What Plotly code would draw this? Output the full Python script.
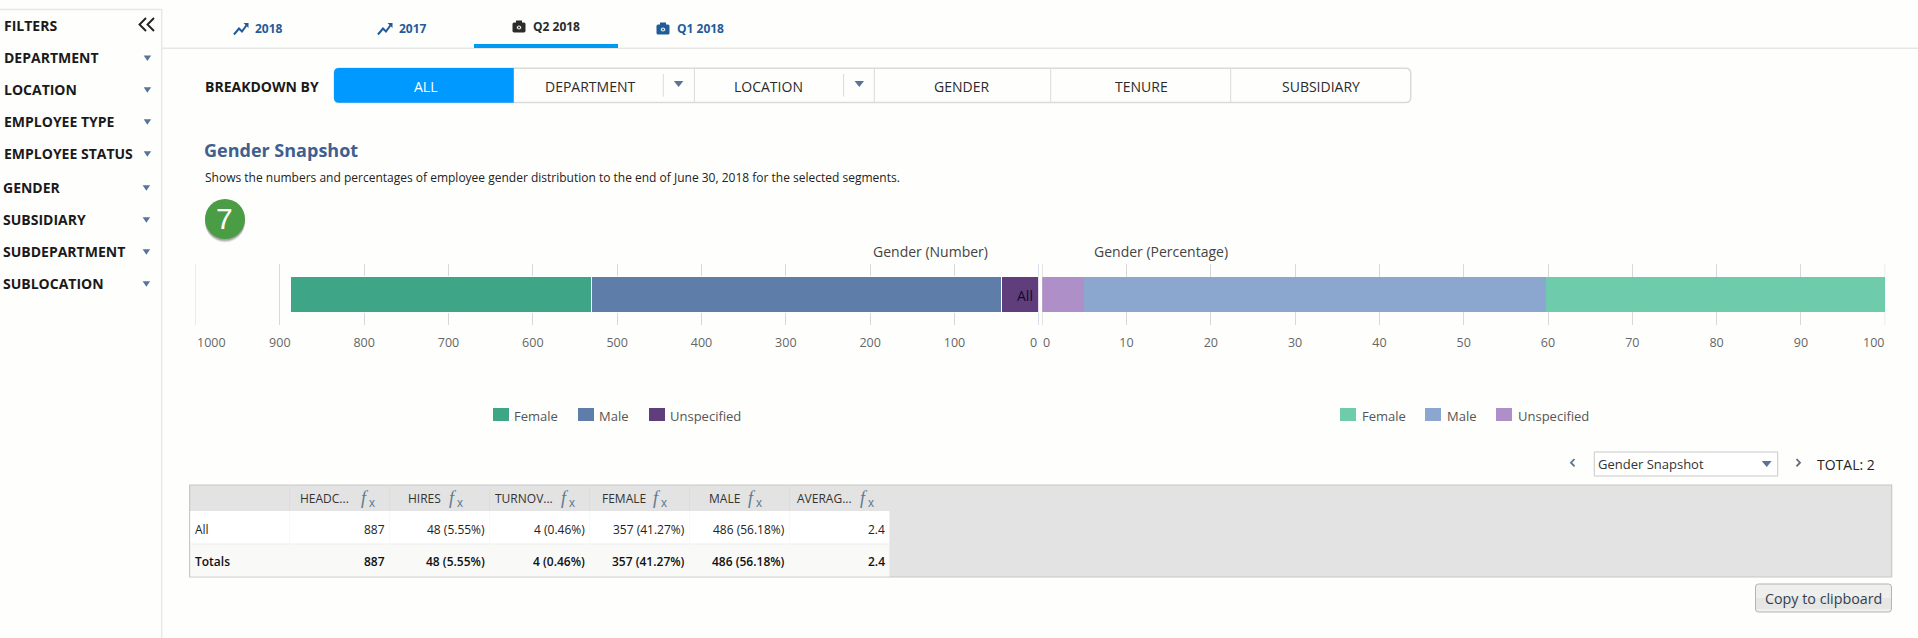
#!/usr/bin/env python3

import plotly.graph_objects as go

W = 1918
H = 638
FONT = 'Open Sans'
BG = '#fefefc'

# Chart data
category = ['All']
gender_names = ['Unspecified', 'Male', 'Female']
gender_number = [44, 486, 357]
gender_percent = [4.96, 54.79, 40.25]
number_ticks = [0, 100, 200, 300, 400, 500, 600, 700, 800, 900, 1000]
percent_ticks = [0, 10, 20, 30, 40, 50, 60, 70, 80, 90, 100]

# Page texts
filter_names = ['DEPARTMENT', 'LOCATION', 'EMPLOYEE TYPE', 'EMPLOYEE STATUS',
                'GENDER', 'SUBSIDIARY', 'SUBDEPARTMENT', 'SUBLOCATION']
tab_names = ['2018', '2017', 'Q2 2018', 'Q1 2018']
breakdown_names = ['ALL', 'DEPARTMENT', 'LOCATION', 'GENDER', 'TENURE', 'SUBSIDIARY']

# Table
table_headers = ['HEADC...', 'HIRES', 'TURNOV...', 'FEMALE', 'MALE', 'AVERAG...']
table_rows = ['All', 'Totals']
headcount = ['887', '887']
hires = ['48 (5.55%)', '48 (5.55%)']
turnover = ['4 (0.46%)', '4 (0.46%)']
female = ['357 (41.27%)', '357 (41.27%)']
male = ['486 (56.18%)', '486 (56.18%)']
average = ['2.4', '2.4']

DARK_COLORS = {'Female': '#3ea586', 'Male': '#5f7da9', 'Unspecified': '#603e7c'}
LIGHT_COLORS = {'Female': '#6ecbac', 'Male': '#8ca7cf', 'Unspecified': '#af8fc7'}

shapes = []
annotations = []


def px(x):
    return x / W


def py(y):
    return 1 - y / H


def label(x, y, text, size=12, color='#222222', anchor='left', weight=400, family=FONT, style='normal'):
    annotations.append(dict(
        x=px(x), y=py(y), xref='paper', yref='paper', text=text, showarrow=False,
        xanchor=anchor, yanchor='middle', borderpad=0, borderwidth=0,
        font=dict(family=family, size=size, color=color, weight=weight, style=style),
    ))


def rect(x0, y0, x1, y1, fill=None, line=None, width=1):
    shapes.append(dict(
        type='rect', xref='paper', yref='paper', layer='below',
        x0=px(x0), x1=px(x1), y0=py(y0), y1=py(y1),
        fillcolor=fill if fill else 'rgba(0,0,0,0)',
        line=dict(color=line if line else 'rgba(0,0,0,0)', width=width if line else 0),
    ))


def path(points, fill=None, line=None, width=1):
    # points is a list of (command, x, y)
    parts = []
    for p in points:
        if p == 'Z':
            parts.append('Z')
        else:
            coords = ' '.join(f'{px(p[i]):.5f},{py(p[i + 1]):.5f}' for i in range(1, len(p), 2))
            parts.append(p[0] + coords)
    shapes.append(dict(
        type='path', xref='paper', yref='paper', layer='below', path=' '.join(parts),
        fillcolor=fill if fill else 'rgba(0,0,0,0)',
        line=dict(color=line if line else 'rgba(0,0,0,0)', width=width if line else 0),
    ))


def hline(x0, x1, y, color, width=1):
    path([('M', x0, y), ('L', x1, y)], line=color, width=width)


def vline(x, y0, y1, color, width=1):
    path([('M', x, y0), ('L', x, y1)], line=color, width=width)


def triangle(x, y, w, h, color='#5a7399'):
    path([('M', x - w / 2, y - h / 2), ('L', x + w / 2, y - h / 2), ('L', x, y + h / 2), 'Z'], fill=color)


def rounded(x0, y0, x1, y1, r, fill=None, line=None, width=1):
    path([('M', x0 + r, y0), ('L', x1 - r, y0), ('Q', x1, y0, x1, y0 + r),
          ('L', x1, y1 - r), ('Q', x1, y1, x1 - r, y1), ('L', x0 + r, y1),
          ('Q', x0, y1, x0, y1 - r), ('L', x0, y0 + r), ('Q', x0, y0, x0 + r, y0), 'Z'],
         fill=fill, line=line, width=width)


def circle(x0, y0, x1, y1, fill, line=None):
    shapes.append(dict(type='circle', xref='paper', yref='paper', layer='below',
                       x0=px(x0), x1=px(x1), y0=py(y1), y1=py(y0), fillcolor=fill,
                       line=dict(color=line, width=1) if line else dict(width=0)))


def trend_icon(x, y, color):
    path([('M', x, y + 6), ('L', x + 5, y), ('L', x + 8, y + 3), ('L', x + 13, y - 4)], line=color, width=2)
    path([('M', x + 9.5, y - 5.5), ('L', x + 14.5, y - 5.5), ('L', x + 14.5, y - 0.5), 'Z'], fill=color)


def camera_icon(x, y, color):
    rounded(x, y - 4, x + 13, y + 6, 1.5, fill=color)
    rect(x + 3.5, y - 6, x + 9.5, y - 3, fill=color)
    circle(x + 4, y - 1.5, x + 9, y + 3.5, BG, color)
    circle(x + 5.5, y, x + 7.5, y + 2, color)


# Sidebar
hline(0, 162, 9.5, '#e8e8e6', 1.5)
vline(161.7, 9, H, '#e8e8e6', 1.5)
label(3.8, 26, 'FILTERS', 14, '#1a1a1a', weight=700)
path([('M', 146, 18), ('L', 139.5, 24.5), ('L', 146, 31)], line='#222222', width=1.9)
path([('M', 154, 18), ('L', 147.5, 24.5), ('L', 154, 31)], line='#222222', width=1.9)
filter_y = [58.3, 90, 122, 154, 188, 220, 252, 284]
for i, name in enumerate(filter_names):
    tx = 3.8 if i < 4 else 2.7
    label(tx, filter_y[i] - 0.6, name, 14, '#1a1a1a', weight=700)
    triangle(147.4 if i < 4 else 146.4, filter_y[i], 7.5, 5.5)

# Tabs
TAB_BLUE = '#1f5c99'
hline(162, W, 48.3, '#e6e6e4', 1.5)
rect(474, 44, 618, 48, fill='#009af2')
tab_x = [254.8, 398.7, 532.9, 676.7]
tab_y = [28.7, 28.7, 26.7, 28.7]
for i, name in enumerate(tab_names):
    color = '#2b2b2b' if i == 2 else TAB_BLUE
    label(tab_x[i], tab_y[i], name, 12, color, weight=700)
trend_icon(234, 28.5, TAB_BLUE)
trend_icon(378, 28.5, TAB_BLUE)
camera_icon(512.5, 26.5, '#2b2b2b')
camera_icon(656.5, 28.5, TAB_BLUE)

# Breakdown buttons
label(205, 86, 'BREAKDOWN BY', 14, '#1a1a1a', weight=700)
rounded(334.2, 68.3, 1410.7, 102.5, 5, fill=BG, line='#dadad8', width=1.5)
path([('M', 339, 68), ('L', 513.8, 68), ('L', 513.8, 102.8), ('L', 339, 102.8),
      ('Q', 334, 102.8, 334, 98), ('L', 334, 73), ('Q', 334, 68, 339, 68), 'Z'], fill='#0099ff')
for x in [694.4, 874.3, 1050.7, 1230.7]:
    vline(x, 68.3, 102.5, '#dadad8', 1)
vline(663.3, 74, 96.7, '#dadad8', 1)
vline(843.6, 74, 96.7, '#dadad8', 1)
triangle(678.6, 84, 9.5, 6)
triangle(859.3, 84, 9.5, 6)
breakdown_x = [425, 589.8, 768.7, 961.4, 1141.4, 1321.4]
for i, name in enumerate(breakdown_names):
    label(breakdown_x[i], 86, name, 14, '#ffffff' if i == 0 else '#2b2b2b', anchor='center')

# Heading
label(204, 150, 'Gender Snapshot', 18, '#3f5f8f', weight=700)
label(205, 177, 'Shows the numbers and percentages of employee gender distribution '
      'to the end of June 30, 2018 for the selected segments.', 12, '#222222')
for off, alpha in [(3.5, 0.10), (2.5, 0.18), (1.5, 0.25)]:
    circle(205, 199 + off, 245, 239 + off, f'rgba(60,60,60,{alpha})')
circle(205, 199, 245, 239, '#4a9c45')
label(224.5, 218, '7', 30, '#ffffff', anchor='center', family='Liberation Sans')

# Chart titles
label(930, 251, 'Gender (Number)', 14, '#444444', anchor='center')
label(1160.5, 251, 'Gender (Percentage)', 14, '#444444', anchor='center')

# Legends
legend_layout = [
    (DARK_COLORS, [493, 578, 649], [514, 599, 670]),
    (LIGHT_COLORS, [1340, 1425, 1496], [1362, 1447, 1517.6]),
]
for colors, swatch_x, text_x in legend_layout:
    for i, name in enumerate(['Female', 'Male', 'Unspecified']):
        rect(swatch_x[i], 408, swatch_x[i] + 16, 421, fill=colors[name])
        label(text_x[i], 416, name, 13, '#555555')

# Table frame
rect(189.6, 485, 1891.7, 577, fill='#e3e3e3', line='#c8c8c8', width=1.2)
rect(190.2, 511, 889.4, 544, fill='#ffffff')
rect(190.2, 544, 889.4, 576.4, fill='#f9f9f7')
hline(190.2, 889.4, 544, '#ececea', 1)
column_edges = [289.6, 389.6, 489.5, 589.5, 689.5, 789.4, 889.4]
for x in column_edges[:-1]:
    vline(x, 485.5, 511, '#dcdcdc', 1)
    vline(x, 511, 576.4, '#f8f8f6', 1)
header_x = [299.6, 408, 495, 602, 708.6, 796.6]
fx_x = [361, 449, 561, 653, 748, 860]
for i, name in enumerate(table_headers):
    label(header_x[i], 498.5, name, 12, '#333333')
    label(fx_x[i], 497.5, 'f', 18, '#5e7a90', family='Liberation Serif', style='italic')
    label(fx_x[i] + 8, 503, 'x', 12, '#5e7a90', family='Liberation Sans')
table_columns = [headcount, hires, turnover, female, male, average]
for r, row_name in enumerate(table_rows):
    y = [529, 561.5][r]
    weight = 400 if r == 0 else 600
    label(194.9, y, row_name, 12, '#222222' if r == 0 else '#111111', weight=weight)
    for c, col in enumerate(table_columns):
        label(column_edges[c + 1] - 4.6, y, col[r], 12, '#222222' if r == 0 else '#111111',
              anchor='right', weight=weight)

# Table pager
path([('M', 1574.5, 459), ('L', 1571, 462.7), ('L', 1574.5, 466.4)], line='#5a7399', width=1.8)
rect(1594.3, 452, 1777.7, 476, fill='#ffffff', line='#c8c8c8', width=1)
label(1598.3, 463.7, 'Gender Snapshot', 13, '#333333')
triangle(1766.7, 464, 10, 6)
path([('M', 1796.5, 459), ('L', 1800, 462.7), ('L', 1796.5, 466.4)], line='#6d6478', width=1.8)
label(1817.3, 464, 'TOTAL: 2', 14, '#222222')
rounded(1755.5, 584, 1891.5, 612, 3, fill='#efefed')
rect(1756, 598, 1891, 609, fill='#e6e6e4')
rounded(1755.5, 584, 1891.5, 612, 3, line='#b4b4b2', width=1)
label(1823.3, 598.5, 'Copy to clipboard', 14.3, '#333f50', anchor='center')

# Bars, drawn through the two value axes
fig = go.Figure()
for name, num, pct in zip(gender_names, gender_number, gender_percent):
    fig.add_trace(go.Bar(
        name=name, y=category, x=[num], orientation='h', xaxis='x', yaxis='y',
        marker=dict(color=DARK_COLORS[name], line=dict(color='#ffffff', width=1)),
    ))
    fig.add_trace(go.Bar(
        name=name, y=category, x=[pct], orientation='h', xaxis='x2', yaxis='y2',
        marker=dict(color=LIGHT_COLORS[name], line=dict(width=0)),
    ))

AXIS_STYLE = dict(
    showgrid=True, gridcolor='#d8d8d8', gridwidth=1, zeroline=False, showline=False,
    ticks='', ticklabelstandoff=8, tickfont=dict(family=FONT, size=12.5, color='#666666'),
    anchor='free', fixedrange=True,
)

# The labels at both ends of each axis sit inside the plot, they are added below
fig.update_layout(
    width=W, height=H, margin=dict(l=0, r=0, t=0, b=0),
    paper_bgcolor=BG, plot_bgcolor='rgba(0,0,0,0)',
    barmode='stack', bargap=0.42, showlegend=False,
    xaxis=dict(domain=[px(195.5), px(1038.8)], range=[number_ticks[-1], number_ticks[0]],
               tickvals=number_ticks[1:-1], ticktext=[str(t) for t in number_ticks[1:-1]],
               position=py(325), **AXIS_STYLE),
    xaxis2=dict(domain=[px(1042.2), px(1885.2)], range=[percent_ticks[0], percent_ticks[-1]],
                tickvals=percent_ticks[1:-1], ticktext=[str(t) for t in percent_ticks[1:-1]],
                position=py(325), **AXIS_STYLE),
    yaxis=dict(domain=[py(325), py(264)], anchor='x', visible=False, fixedrange=True),
    yaxis2=dict(domain=[py(325), py(264)], anchor='x2', visible=False, fixedrange=True),
    shapes=shapes,
)

# End labels of the axes and the category label, tied to the axes
end_font = dict(family=FONT, size=12.5, color='#666666')
for text, axis, val, shift in [
    (number_ticks[-1], 'x', number_ticks[-1], 15.5),
    (number_ticks[0], 'x', number_ticks[0], -5.2),
    (percent_ticks[0], 'x2', percent_ticks[0], 4.6),
    (percent_ticks[-1], 'x2', percent_ticks[-1], -11.7),
]:
    annotations.append(dict(x=val, xref=axis, y=py(342.6), yref='paper', text=str(text), xshift=shift,
                            showarrow=False, xanchor='center', yanchor='middle', font=end_font))
annotations.append(dict(x=number_ticks[0], xref='x', y=category[0], yref='y', text=category[0], xshift=-4,
                        yshift=-1, showarrow=False, xanchor='right', yanchor='middle',
                        font=dict(family=FONT, size=14, color='#140a28')))
fig.update_layout(annotations=annotations)

# Gridlines on the plot edges, plotly leaves them out
for axis, val, color in [('x', number_ticks[-1], '#d8d8d8'), ('x', number_ticks[0], '#b8c6dc'),
                         ('x2', percent_ticks[0], '#cfcfcf'), ('x2', percent_ticks[-1], '#d8d8d8')]:
    fig.add_shape(type='line', xref=axis, x0=val, x1=val, yref='paper', y0=py(264), y1=py(325),
                  line=dict(color=color, width=1), layer='below')

fig.write_html('out.html', config=dict(displayModeBar=False),
               post_script="document.body.style.margin='0';document.body.style.overflow='hidden';")
